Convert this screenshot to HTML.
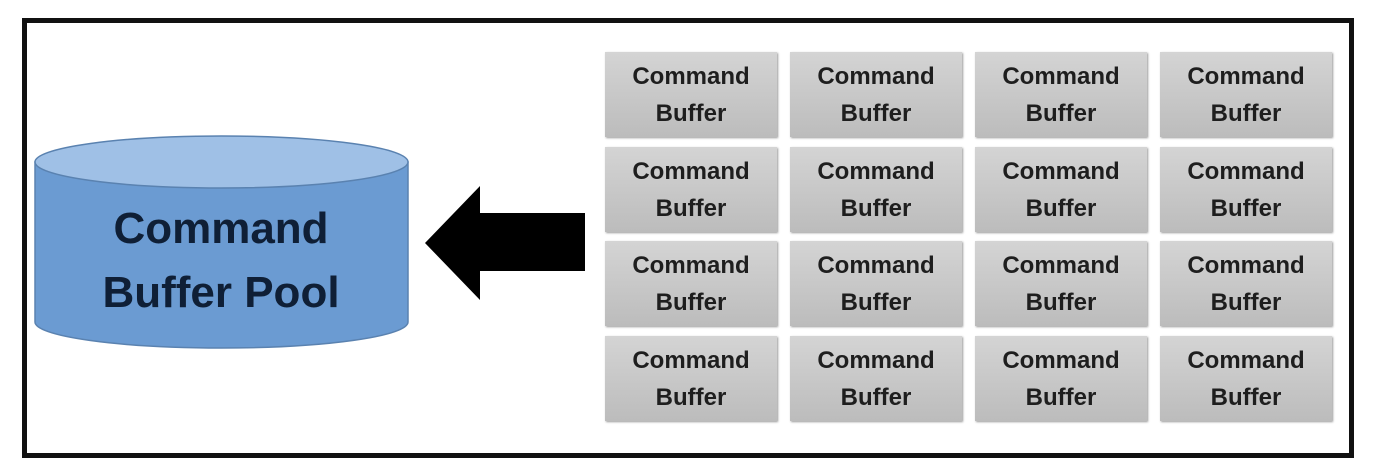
<!DOCTYPE html>
<html><head><meta charset="utf-8"><style>
body{margin:0;width:1380px;height:476px;background:#fff;position:relative;overflow:hidden;font-family:"Liberation Sans",sans-serif}
.frame{position:absolute;left:22px;top:18px;width:1322px;height:430px;border:5px solid #111}
.c{position:absolute;width:172px;height:85px;background:linear-gradient(#d4d4d4,#bcbcbc);color:#1e1e1e;font-weight:bold;font-size:24px;line-height:37px;text-align:center;padding-top:6px;box-sizing:border-box;box-shadow:1px 1px 2px #999}
</style></head><body>
<div class="frame"></div>
<svg style="position:absolute;left:0;top:0" width="1380" height="476">
<path d="M35 162 L35 322 A186.5 26 0 0 0 408 322 L408 162 Z" fill="#6b9bd2" stroke="#5a82b0" stroke-width="1.5"/>
<ellipse cx="221.5" cy="162" rx="186.5" ry="26" fill="#9fc0e6" stroke="#5a82b0" stroke-width="1.5"/>
<text x="221" y="243" text-anchor="middle" font-family="Liberation Sans" font-weight="bold" font-size="44" fill="#0f1f36">Command</text>
<text x="221" y="307" text-anchor="middle" font-family="Liberation Sans" font-weight="bold" font-size="44" fill="#0f1f36">Buffer Pool</text>
<polygon points="425,243 480,186 480,213 585,213 585,271 480,271 480,300" fill="#000"/>
</svg>
<div class="c" style="left:605px;top:52px">Command<br>Buffer</div>
<div class="c" style="left:790px;top:52px">Command<br>Buffer</div>
<div class="c" style="left:975px;top:52px">Command<br>Buffer</div>
<div class="c" style="left:1160px;top:52px">Command<br>Buffer</div>
<div class="c" style="left:605px;top:147px">Command<br>Buffer</div>
<div class="c" style="left:790px;top:147px">Command<br>Buffer</div>
<div class="c" style="left:975px;top:147px">Command<br>Buffer</div>
<div class="c" style="left:1160px;top:147px">Command<br>Buffer</div>
<div class="c" style="left:605px;top:241px">Command<br>Buffer</div>
<div class="c" style="left:790px;top:241px">Command<br>Buffer</div>
<div class="c" style="left:975px;top:241px">Command<br>Buffer</div>
<div class="c" style="left:1160px;top:241px">Command<br>Buffer</div>
<div class="c" style="left:605px;top:336px">Command<br>Buffer</div>
<div class="c" style="left:790px;top:336px">Command<br>Buffer</div>
<div class="c" style="left:975px;top:336px">Command<br>Buffer</div>
<div class="c" style="left:1160px;top:336px">Command<br>Buffer</div>
</body></html>
